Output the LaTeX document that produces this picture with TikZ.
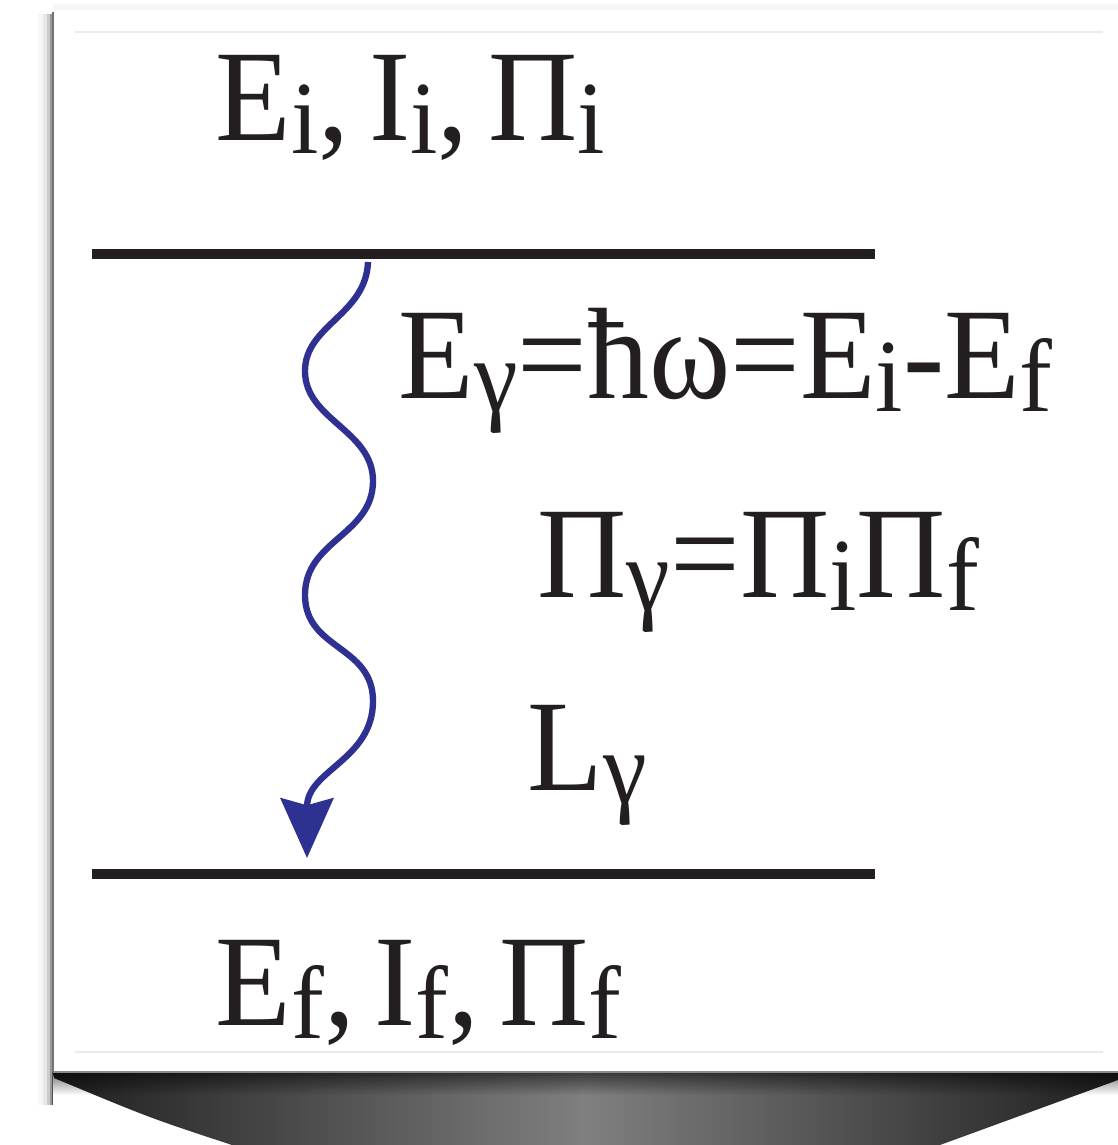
\documentclass[tikz,border=0pt]{standalone}
\usepackage{fontspec}
\setmainfont{Liberation Serif}
\usetikzlibrary{arrows.meta,fadings}
\definecolor{ink}{RGB}{35,31,32}
\definecolor{wave}{RGB}{46,49,146}
\newcommand\lsub[1]{\raisebox{-3.8pt}{\fontsize{29.5pt}{31pt}\selectfont #1}}
\newcommand\csp{,\hspace{0.16em}}
\newcommand\narrow[1]{\scalebox{0.95}[1]{#1}}
\tikzset{
  label/.style={anchor=base west, inner sep=0pt, text=ink, font=\fontsize{37pt}{42pt}\selectfont},
  level/.style={draw=ink, line width=3.1pt},
  photon/.style={draw=wave, line width=1.8pt, -{Stealth[width=15pt,length=17pt,inset=2pt]}},
}
\begin{document}
\begin{tikzpicture}[x=0.01cm,y=-0.01cm]
\useasboundingbox (0,0) rectangle (1118,1145);
\fill[white] (0,0) rectangle (1118,1145);
% card shadow on left
\foreach \d/\o in {1/0.45,3/0.25,6/0.12,10/0.06,15/0.03}{
  \fill[black, opacity=\o] (53-\d,14) rectangle (53,1105);
}
\fill[black, opacity=0.03] (53,4) rectangle (1118,10);
% curl under card
\shade[left color=black!88, right color=black!88, middle color=black!50]
  (53,1072) -- (1118,1072) -- (1118,1080) -- (940,1145) -- (232,1145) .. controls (150,1118) .. (54,1078) -- cycle;
\fill[black, opacity=0.55, path fading=south]
  (53,1072) -- (1118,1072) -- (1118,1095) -- (53,1095) -- cycle;
% card
\fill[white] (53,10) rectangle (1118,1072);
\draw[black!45, line width=0.5pt] (53,1072) -- (1118,1072);
\draw[black!55, line width=0.8pt] (53,12) -- (53,1072);
\draw[black!8, line width=0.3pt] (75,32) -- (1103,32);
\draw[black!8, line width=0.3pt] (75,1052) -- (1103,1052);
% levels
\coordinate (upA) at (92,254);
\coordinate (upB) at (875,254);
\coordinate (loA) at (92,874);
\coordinate (loB) at (875,874);
\draw[level] (upA) -- (upB);
\draw[level] (loA) -- (loB);
% labels
\node[label] (init) at (215,140) {\narrow{E\lsub{i}\csp I\lsub{i}\csp Π\lsub{i}}};
\node[label] (fin) at (215,1025) {\narrow{E\lsub{f}\csp I\lsub{f}\csp Π\lsub{f}}};
\node[label] (energy) at (398,398) {\narrow{E\lsub{γ}=ħω=E\lsub{i}-E\lsub{f}}};
\node[label] (parity) at (537,597) {\narrow{Π\lsub{γ}=Π\lsub{i}Π\lsub{f}}};
\node[label] (mult) at (527,790) {\narrow{L\lsub{γ}}};
% photon
\coordinate (wstart) at (368,262);
\coordinate (wend) at (307,858);
\draw[photon] (wstart) .. controls (366,315) and (305,325) .. (305,371)
  .. controls (305,420) and (373,430) .. (373,481)
  .. controls (373,535) and (305,540) .. (305,595)
  .. controls (305,650) and (373,645) .. (373,701)
  .. controls (373,760) and (307,770) .. (wend);
\end{tikzpicture}
\end{document}
